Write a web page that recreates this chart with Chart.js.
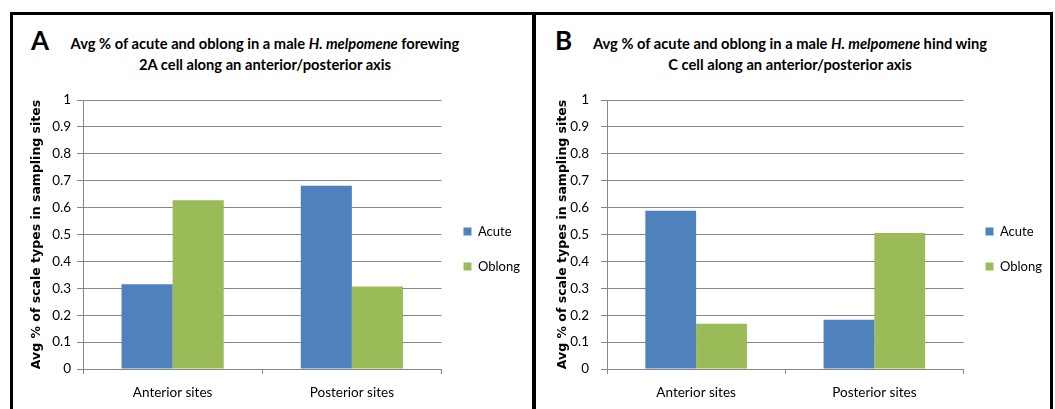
<!DOCTYPE html>
<html>
<head>
<meta charset="utf-8">
<script src="https://cdn.jsdelivr.net/npm/chart.js@4.4.1/dist/chart.umd.min.js"></script>
<style>
  html, body { margin: 0; padding: 0; background: #fff; }
  body { width: 1055px; height: 409px; position: relative; overflow: hidden; font-family: Lato, "Open Sans", sans-serif; }
  .panel { position: absolute; top: 12px; height: 420px; border-top: 3px solid #000; box-sizing: border-box; }
  #panelA { left: 10px; width: 526px; border-left: 3px solid #000; border-right: 4px solid #000; }
  #panelB { left: 536px; width: 517px; border-right: 3px solid #000; }
  .letter { position: absolute; top: 27px; font-size: 26px; font-weight: bold; line-height: 26px; color: #000; }
  .title { position: absolute; top: 33px; width: 420px; text-align: center; font-size: 14.7px; font-weight: bold; line-height: 20.5px; color: #000; white-space: nowrap; }
  canvas { position: absolute; top: 78px; }
  #chartA { left: 13px; }
  #chartB { left: 536px; }
</style>
</head>
<body>
<div class="panel" id="panelA"></div>
<div class="panel" id="panelB"></div>
<div class="letter" style="left:31px">A</div>
<div class="title" style="left:55px">Avg % of acute and oblong in a male <i>H. melpomene</i> forewing<br>2A cell along an anterior/posterior axis</div>
<div class="letter" style="left:555px">B</div>
<div class="title" style="left:580px">Avg % of acute and oblong in a male <i>H. melpomene</i> hind wing<br>C cell along an anterior/posterior axis</div>
<canvas id="chartA" width="519" height="331"></canvas>
<canvas id="chartB" width="516" height="331"></canvas>
<script>
// datos
const categories = ['Anterior sites', 'Posterior sites'];
const seriesNames = ['Acute', 'Oblong'];
const forewingAcute = [0.315, 0.681];
const forewingOblong = [0.627, 0.307];
const hindwingAcute = [0.588, 0.183];
const hindwingOblong = [0.168, 0.506];
const yTickLabels = ['0', '0.1', '0.2', '0.3', '0.4', '0.5', '0.6', '0.7', '0.8', '0.9', '1'];
const yAxisTitle = 'Avg % of scale types in sampling sites';

const colorAcute = '#4F81BD';
const colorOblong = '#9BBB59';
const gridColor = '#868686';

Chart.defaults.font.family = 'Lato, "Open Sans", sans-serif';
Chart.defaults.color = '#000';

function makeChart(id, acute, oblong, cfg) {
  return new Chart(document.getElementById(id), {
    type: 'bar',
    data: {
      labels: categories,
      datasets: [
        { label: seriesNames[0], data: acute, backgroundColor: colorAcute },
        { label: seriesNames[1], data: oblong, backgroundColor: colorOblong }
      ]
    },
    options: {
      responsive: false,
      animation: false,
      devicePixelRatio: 1,
      categoryPercentage: 0.57,
      barPercentage: 1,
      layout: { padding: { top: 22, bottom: 11, left: 0, right: cfg.padRight } },
      plugins: {
        tooltip: { enabled: false },
        legend: {
          position: 'right',
          labels: { boxWidth: 8, boxHeight: 8, padding: 22, font: { size: 13 }, color: '#000' }
        }
      },
      scales: {
        x: {
          grid: { display: true, drawOnChartArea: false, offset: true, tickLength: 5, color: gridColor },
          border: { color: gridColor },
          ticks: { padding: 11, font: { size: 13.5 }, color: '#000' },
          afterFit: s => { s.height = 29; }
        },
        y: {
          min: 0,
          max: 1,
          ticks: {
            stepSize: 0.1,
            padding: cfg.tickPad,
            font: { size: 13.5 },
            color: '#000',
            callback: (v, i) => yTickLabels[i]
          },
          grid: { color: gridColor, tickLength: 6 },
          border: { color: gridColor },
          title: {
            display: true,
            text: yAxisTitle,
            font: { family: '"DejaVu Sans", sans-serif', size: 12.5, weight: 'bold' },
            color: '#000',
            padding: { top: cfg.titlePad, bottom: 0 }
          },
          afterFit: s => { s.width = cfg.yWidth; }
        }
      }
    }
  });
}

makeChart('chartA', forewingAcute, forewingOblong, { yWidth: 70, tickPad: 6, titlePad: 16.5, padRight: 2 });
makeChart('chartB', hindwingAcute, hindwingOblong, { yWidth: 71, tickPad: 12, titlePad: 19.5, padRight: 0 });
</script>
</body>
</html>
